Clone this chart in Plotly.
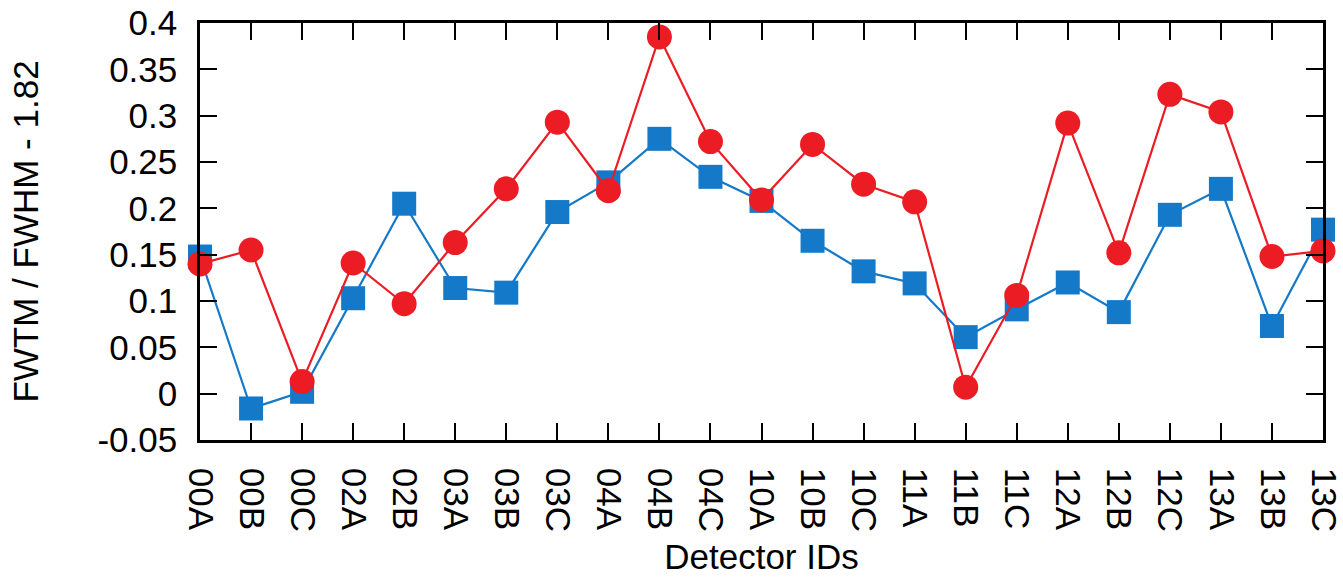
import plotly.graph_objects as go

detectors = ["00A", "00B", "00C", "02A", "02B", "03A", "03B", "03C", "04A", "04B", "04C",
             "10A", "10B", "10C", "11A", "11B", "11C", "12A", "12B", "12C", "13A", "13B", "13C"]
blue_vals = [0.148, -0.016, 0.002, 0.103, 0.205, 0.114, 0.109, 0.196, 0.228, 0.275, 0.234,
             0.208, 0.165, 0.132, 0.119, 0.061, 0.091, 0.120, 0.088, 0.193, 0.221, 0.073, 0.177]
red_vals = [0.140, 0.155, 0.013, 0.141, 0.097, 0.163, 0.221, 0.293, 0.219, 0.385, 0.272,
            0.209, 0.269, 0.226, 0.207, 0.007, 0.106, 0.292, 0.152, 0.323, 0.304, 0.148, 0.154]
y_tickvals = [-0.05, 0, 0.05, 0.1, 0.15, 0.2, 0.25, 0.3, 0.35, 0.4]
y_ticktext = ["-0.05", "0", "0.05", "0.1", "0.15", "0.2", "0.25", "0.3", "0.35", "0.4"]

BLUE = "#1479c8"
RED = "#ec1c24"
FONT = "Liberation Sans, Arial, sans-serif"

fig = go.Figure()
fig.add_trace(go.Scatter(
    x=detectors, y=blue_vals, mode="lines+markers",
    line=dict(color=BLUE, width=2.2),
    marker=dict(symbol="square", size=24, color=BLUE, line=dict(width=0)),
    cliponaxis=False, showlegend=False))
fig.add_trace(go.Scatter(
    x=detectors, y=red_vals, mode="lines+markers",
    line=dict(color=RED, width=2.2),
    marker=dict(symbol="circle", size=25, color=RED, line=dict(width=0)),
    cliponaxis=False, showlegend=False))

fig.update_layout(
    width=1343, height=579,
    margin=dict(l=200, r=20, t=23, b=139, autoexpand=False),
    paper_bgcolor="white", plot_bgcolor="white",
    font=dict(family=FONT, size=35, color="black"),
    xaxis=dict(
        type="category", range=[0, len(detectors) - 1],
        showline=True, linecolor="black", linewidth=2.5, mirror="ticks",
        ticks="inside", ticklen=17, tickwidth=2, tickcolor="black",
        tickangle=90, showgrid=False, zeroline=False,
        ticklabelstandoff=18,
        tickfont=dict(family=FONT, size=35),
        title=dict(text="Detector IDs", font=dict(family=FONT, size=35), standoff=14),
        layer="above traces"),
    yaxis=dict(
        range=[-0.05, 0.4], tickvals=y_tickvals, ticktext=y_ticktext,
        showline=True, linecolor="black", linewidth=2.5, mirror="ticks",
        ticks="inside", ticklen=17, tickwidth=2, tickcolor="black",
        showgrid=False, zeroline=False,
        ticklabelstandoff=13,
        tickfont=dict(family=FONT, size=35),
        title=dict(text="FWTM / FWHM - 1.82", font=dict(family=FONT, size=35), standoff=49),
        layer="above traces"),
)

fig.write_html("out.html", config={"displayModeBar": False},
               post_script="document.body.style.margin='0';document.body.style.padding='0';")
